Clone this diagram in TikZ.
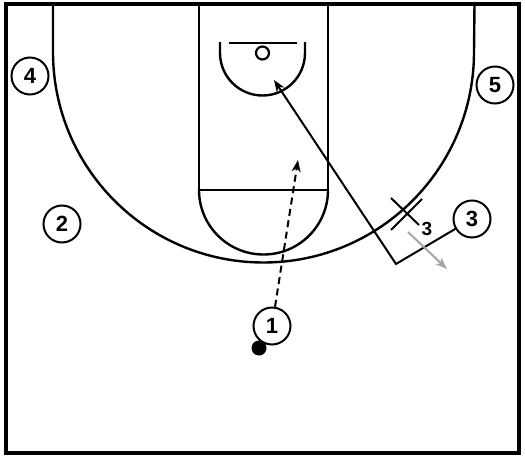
\documentclass[tikz,border=0pt]{standalone}
\usepackage{fontspec}
\setmainfont{Liberation Sans}
\usetikzlibrary{arrows.meta}
\begin{document}
\begin{tikzpicture}[x=1pt,y=-1pt,
  court/.style={line width=2.4pt,black},
  player/.style={circle,draw,line width=2pt,minimum size=37pt,inner sep=0pt,font=\fontsize{22}{22}\selectfont\bfseries,fill=white},
  move/.style={line width=2pt,-{Stealth[length=12pt,width=9pt]}},
  pass/.style={move,dash pattern=on 7pt off 4.5pt},
  lbl/.style={font=\fontsize{19}{19}\selectfont\bfseries,inner sep=0pt}]
\useasboundingbox (0,0) rectangle (525,458);
% court
\draw[line width=3.5pt] (6,4) rectangle (519,453);
\draw[court] (53,4) -- (53,52) arc[start angle=180,end angle=0,radius=210.5] -- (474.5,4);
\draw[court] (199,4) -- (199,190) -- (328,190) -- (328,4);
\draw[court] (199,190) arc[start angle=180,end angle=0,radius=64.5];
\draw[court] (220,42) -- (220,53) arc[start angle=180,end angle=0,radius=42.5] -- (305,42);
\draw[court] (229,43) -- (297,43);
\draw[line width=2.2pt] (262.5,53) circle[radius=6.5];
% players
\node[player] (p4) at (30,76) {4};
\node[player] (p5) at (495,85) {5};
\node[player] (p2) at (62,224) {2};
\node[player] (p3) at (472,219) {3};
\node[player] (p1) at (272,326) {1};
\node[circle,fill=black,minimum size=15pt,inner sep=0pt] (ball) at (259,348) {};
% movements
\coordinate (t1) at (298,160);
\draw[pass] (p1) -- (t1);
\coordinate (c3) at (396,264);
\coordinate (t3) at (274,80);
\draw[move] (p3) -- (c3) -- (t3);
\coordinate (g1) at (408,232);
\coordinate (g2) at (447,269);
\draw[move,gray!70] (g1) -- (g2);
% screen mark
\coordinate (s1) at (391,198);
\coordinate (s2) at (419,225);
\coordinate (s3) at (422,199);
\coordinate (s4) at (391,230);
\draw[line width=2pt] (s1) -- (s2);
\draw[line width=2pt] (s3) -- (s4);
\node[lbl] (l3) at (427,229) {3};
\end{tikzpicture}
\end{document}
